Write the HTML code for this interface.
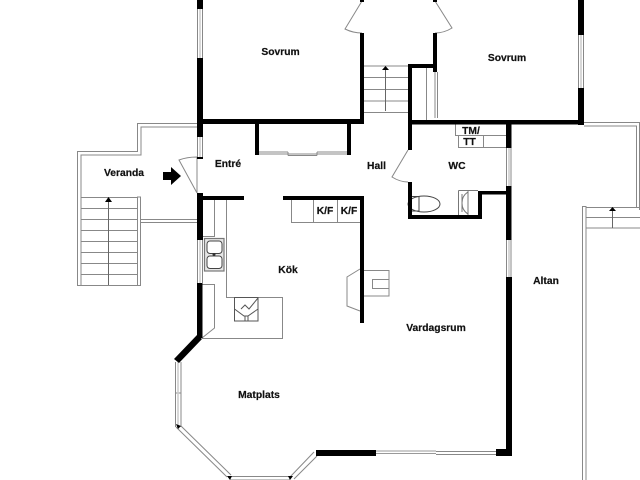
<!DOCTYPE html>
<html><head><meta charset="utf-8"><style>
html,body{margin:0;padding:0;background:#fff;width:640px;height:480px;overflow:hidden}
svg{display:block}
text{font-family:"Liberation Sans",sans-serif;font-weight:700;font-size:10.3px;fill:#111;stroke:#111;stroke-width:.2px;text-anchor:middle}
</style></head><body>
<svg width="640" height="480" viewBox="0 0 640 480" xmlns="http://www.w3.org/2000/svg">
<rect width="640" height="480" fill="#fff"/>
<!-- thin grey lines -->
<g fill="none" stroke="#888" stroke-width="1">
<!-- veranda -->
<path d="M197 123.500H137.500V151.500H77.500V285.500H140.500V197H137.500V285"/>
<path d="M197 127H141V155H81V285"/>
<path d="M141 219.500H197M141 222.500H197"/>
<path d="M81 197.500H137M81 208.500H137M81 219.500H137M81 230.500H137M81 241.500H137M81 252.500H137M81 263.500H137M81 274.500H137"/>
<path d="M108.500 199V285" stroke="#666"/>
<!-- entry door -->
<path d="M197 193L179 160Q187 157 197 157M197 157V193"/>
<!-- bedroom doors -->
<path d="M362 1L345 29Q353 33 362 33"/>
<path d="M435 1L452 28Q444 33 435 33"/>
<!-- stairs -->
<path d="M364 66H408M364 77.500H408M364 89.500H408M364 101H408M364 112.500H408"/>
<path d="M385.500 68V111" stroke="#666"/>
<!-- closet -->
<path d="M426.500 68V120M435 72V118M437.500 72V118"/>
<!-- sliding door -->
<path d="M258 152H288M317 152H347M258 154H347M288 155.500H317M288 152V155.500M317 152V155.500"/>
<!-- WC door -->
<path d="M408 150L392 177Q400 182 408 182"/>
<!-- TM/TT -->
<path d="M455.500 124V135.500H506M458.500 135.500V147.500H506M483.500 135.500V147.500"/>
<!-- toilet / basin -->
<ellipse cx="424" cy="204" rx="16" ry="8" fill="#fff" stroke="#444"/>
<path d="M412 196.500H419V211H412M419 196.500V211" stroke="#444"/>
<path d="M458.500 190.500V215M458.500 190.500H478M468 192C460 197 460 209 468 214M462 194V212M468 190V215" stroke="#777"/>
<!-- kitchen -->
<path d="M214.500 198V236.500H202M226.500 198V297.500H282.500V338.500H202M202 284.500H214.500V328L202 338"/>
<path d="M291.500 198V222.500H360M313.500 198V222.500M337.500 198V222.500"/>
<!-- fireplace -->
<path d="M360 269L347 277V306L360 311"/>
<path d="M364 270.500H389V296H364M372.500 279.500H389V288.500H372.500Z"/>
<!-- Altan -->
<path d="M584 122.500H640M584 126H636.500V207.500M639.500 122.500V210"/>
<path d="M582.500 480V206.500H586V480M586 207.500H640M586 217.500H640M586 228H640"/>
<path d="M612.500 209V228" stroke="#666"/>
<!-- glass windows -->
<path d="M197.500 9V58M202.500 9V58"/>
<path d="M197.500 137V157M202.500 137V157"/>
<path d="M197.500 240V283M202.500 240V283"/>
<path d="M578.500 35V88M583.500 35V88"/>
<path d="M506.500 148V186M511 148V186"/>
<path d="M506.500 240V277M511 240V277"/>
<path d="M175.500 362V427M181 362V427M175 393H181"/>
<path d="M176 427L227 477M181 426L231 475"/>
<path d="M230 476.500H290M230 480H290"/>
<path d="M290 477L314 452M294 479L317 456"/>
<path d="M376 451H436M376 453.500H436" stroke="#999"/>
<path d="M436 451.500H496M436 454.500H496"/>
</g>
<g fill="none" stroke="#ccc" stroke-width="1.500">
<path d="M200 9V58M200 137V157M200 240V283M581 35V88M509 148V186M509 240V277M178 362V427"/>
</g>
<!-- kitchen appliances -->
<rect x="204.500" y="238.500" width="19.500" height="32.500" fill="#e6e6e6" stroke="#777" stroke-width="1.200"/>
<rect x="207" y="241" width="15" height="12.500" rx="3" fill="#fff" stroke="#444"/>
<rect x="207" y="256" width="15" height="12.500" rx="3" fill="#fff" stroke="#444"/>
<circle cx="214" cy="254.500" r="1.500" fill="#333"/>
<path d="M234.500 297.500H258V321H234.500ZM234.500 309L244 316H248L258 309M245 316V321M248 316V321M241 309L245 305L249 309L258 298" fill="none" stroke="#555" stroke-width="1"/>
<!-- walls -->
<g fill="#000">
<rect x="197" y="0" width="6" height="9"/>
<rect x="197" y="58" width="6" height="79"/>
<rect x="197" y="157" width="6" height="2"/>
<rect x="197" y="119" width="167" height="5"/>
<rect x="255" y="121" width="4" height="34"/>
<rect x="347" y="121" width="4" height="34"/>
<rect x="197" y="193" width="6" height="47"/>
<rect x="197" y="283" width="5.500" height="55"/>
<rect x="197" y="196" width="47" height="4"/>
<rect x="283" y="196" width="81" height="4"/>
<rect x="360" y="196" width="4" height="127"/>
<polygon points="197,335 202,339 179,363 174,359"/>
<rect x="360" y="33" width="4" height="91"/>
<rect x="360" y="0" width="4" height="2"/>
<rect x="433" y="0" width="4" height="2"/>
<rect x="433" y="33" width="4" height="39"/>
<rect x="408" y="64" width="29" height="4"/>
<rect x="408" y="64" width="4" height="86"/>
<rect x="408" y="182" width="4" height="37"/>
<rect x="408" y="215" width="74" height="4"/>
<rect x="478" y="191" width="4" height="28"/>
<rect x="478" y="191" width="29" height="3.500"/>
<rect x="408" y="120" width="176" height="4.500"/>
<rect x="578" y="0" width="6" height="35"/>
<rect x="578" y="88" width="6" height="37"/>
<rect x="506" y="122" width="5.500" height="26"/>
<rect x="506" y="186" width="5.500" height="54"/>
<rect x="506" y="277" width="6" height="179"/>
<rect x="496" y="449" width="16" height="7"/>
<rect x="316" y="450" width="60" height="6"/>
<polygon points="176,424 181,426 178,429"/>
<polygon points="227,476 232,476 230,480"/>
<polygon points="288,476 293,476 290,480"/>
<!-- arrows -->
<polygon points="163,172 171,172 171,167 181,176 171,185 171,180 163,180"/>
<polygon points="108.500,197 105,202 112,202"/>
<polygon points="385.500,66 382,70 389,70"/>
<polygon points="612.500,207 609,211 616,211"/>
</g>
<!-- labels -->
<text x="280.500" y="55">Sovrum</text>
<text x="507" y="61">Sovrum</text>
<text x="228" y="167">Entré</text>
<text x="376.500" y="169">Hall</text>
<text x="457" y="169">WC</text>
<text x="124" y="176">Veranda</text>
<text x="288" y="273">Kök</text>
<text x="546" y="284">Altan</text>
<text x="436" y="331">Vardagsrum</text>
<text x="259" y="398">Matplats</text>
<text x="471" y="134">TM/</text>
<text x="469.500" y="145">TT</text>
<text x="325" y="214">K/F</text>
<text x="349" y="214">K/F</text>
</svg>
</body></html>
